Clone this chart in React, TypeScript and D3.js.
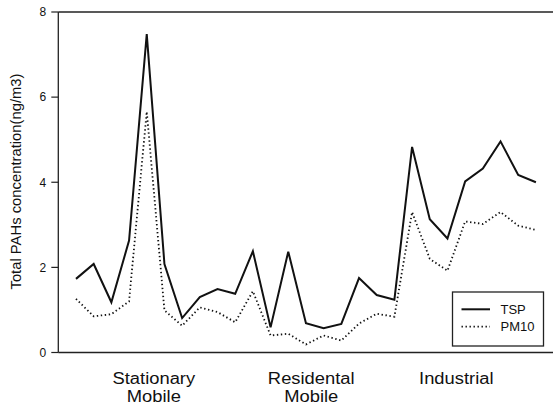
import React from "react";
import * as d3 from "d3";

// Sampling sites (1..27) and the total PAH concentrations measured at each
const sites = d3.range(1, 28);
const tsp = [1.73, 2.08, 1.18, 2.63, 7.48, 2.08, 0.81, 1.3, 1.49, 1.38, 2.38, 0.59, 2.37, 0.69, 0.57, 0.67, 1.75, 1.35, 1.24, 4.83, 3.13, 2.68, 4.02, 4.32, 4.96, 4.17, 4.0];
const pm10 = [1.26, 0.85, 0.9, 1.2, 5.66, 0.99, 0.63, 1.06, 0.95, 0.71, 1.44, 0.4, 0.44, 0.19, 0.4, 0.28, 0.68, 0.91, 0.84, 3.3, 2.2, 1.92, 3.08, 3.02, 3.3, 2.98, 2.88];
const yTicks = [0, 2, 4, 6, 8];
// Area-type labels, placed along the site axis
const groupLabels = [["Stationary", "Mobile"], ["Residental", "Mobile"], ["Industrial"]];
const groupCenters = [5.4, 14.3, 22.5];
const seriesNames = ["TSP", "PM10"];

const W = 553;
const H = 409;
const font = "'Liberation Sans', Arial, Helvetica, sans-serif";

export default function App() {
  const x = d3.scaleLinear().domain([0, 28]).range([58.3, 553.6]);
  const y = d3.scaleLinear().domain([0, 8]).range([352.5, 12]);
  const line = d3
    .line<number>()
    .x((_, i) => x(sites[i]))
    .y((d) => y(d));

  const x0 = x(0);
  const x1 = W;

  return (
    <div style={{ position: "fixed", left: 0, top: 0 }}>
      <svg width={W} height={H} style={{ display: "block", background: "#fff" }} fontFamily={font}>
        {/* frame */}
        <line x1={x0} x2={x1} y1={y(8)} y2={y(8)} stroke="#222" strokeWidth={1.5} />
        <line x1={x0} x2={x1} y1={y(0)} y2={y(0)} stroke="#222" strokeWidth={1.5} />
        <line x1={x0} x2={x0} y1={y(8)} y2={y(0)} stroke="#222" strokeWidth={1.3} />

        {/* y axis ticks and labels */}
        {yTicks.map((t) => (
          <g key={t}>
            <line x1={x0 - 7} x2={x0} y1={y(t)} y2={y(t)} stroke="#222" strokeWidth={1.2} />
            <text x={x0 - 12} y={y(t)} dy="0.36em" textAnchor="end" fontSize={12} fill="#111">
              {t}
            </text>
          </g>
        ))}
        <text
          transform={`translate(21,${181.5}) rotate(-90)`}
          textAnchor="middle"
          fontSize={14.8}
          fill="#111"
        >
          Total PAHs concentration(ng/m3)
        </text>

        {/* category labels, one text per line */}
        {groupLabels.map((lines, gi) =>
          lines.map((s, li) => (
            <text
              key={`${gi}-${li}`}
              transform={`translate(${x(groupCenters[gi])},${383.5 + li * 18}) scale(1.12,1)`}
              textAnchor="middle"
              fontSize={16.4}
              fill="#111"
            >
              {s}
            </text>
          ))
        )}

        {/* series */}
        <path d={line(pm10) ?? ""} fill="none" stroke="#111" strokeWidth={1.8} strokeDasharray="1.4 2.6" />
        <path d={line(tsp) ?? ""} fill="none" stroke="#111" strokeWidth={2} strokeLinejoin="miter" />

        {/* legend */}
        <g>
          <rect x={452.5} y={292} width={91} height={54} fill="#fff" stroke="#222" strokeWidth={1.3} />
          <line x1={461.5} x2={490} y1={309.3} y2={309.3} stroke="#111" strokeWidth={2} />
          <text x={500.5} y={313.5} fontSize={13} fill="#111">
            {seriesNames[0]}
          </text>
          <line x1={461.5} x2={490} y1={326.7} y2={326.7} stroke="#111" strokeWidth={1.8} strokeDasharray="1.4 2.6" />
          <text x={500.5} y={331} fontSize={13} fill="#111">
            {seriesNames[1]}
          </text>
        </g>
      </svg>
    </div>
  );
}
